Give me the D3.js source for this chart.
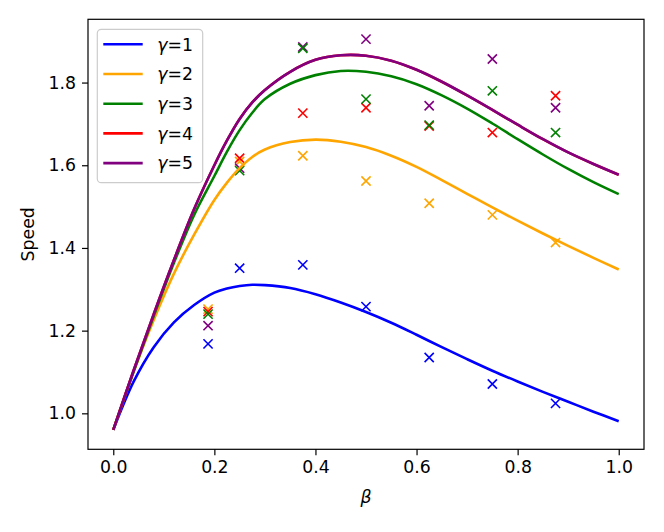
<!DOCTYPE html>
<html>
<head>
<meta charset="utf-8">
<script src="https://cdn.jsdelivr.net/npm/d3@7/dist/d3.min.js"></script>
<style>
  html, body { margin: 0; padding: 0; background: #ffffff; }
  svg { display: block; font-family: "DejaVu Sans", sans-serif; }
</style>
</head>
<body>
<svg id="chart" width="664" height="532"></svg>
<script>
// ---- data ----
const gammas = [1, 2, 3, 4, 5];
const colors = ["#0000ff", "#ffa500", "#008000", "#ff0000", "#800080"];

// curve sample positions (beta)
const betaGrid = [0, 0.04, 0.08, 0.12, 0.16, 0.20, 0.225, 0.25, 0.275, 0.30, 0.35, 0.40, 0.45,
                  0.50, 0.55, 0.60, 0.65, 0.70, 0.75, 0.80, 0.85, 0.90, 0.95, 1.00];
const curveG1 = [0.960, 1.076, 1.160, 1.220, 1.262, 1.292, 1.302, 1.308, 1.311, 1.310, 1.303, 1.288, 1.268,
                 1.245, 1.219, 1.190, 1.160, 1.131, 1.103, 1.077, 1.052, 1.028, 1.004, 0.981];
const curveG2 = [0.960, 1.100, 1.226, 1.338, 1.432, 1.516, 1.558, 1.593, 1.620, 1.638, 1.656, 1.662, 1.657,
                 1.644, 1.623, 1.596, 1.564, 1.531, 1.498, 1.466, 1.435, 1.405, 1.376, 1.348];
const curveG3 = [0.960, 1.100, 1.235, 1.364, 1.480, 1.574, 1.633, 1.685, 1.727, 1.760, 1.797, 1.818, 1.828,
                 1.826, 1.815, 1.796, 1.769, 1.737, 1.701, 1.663, 1.626, 1.591, 1.559, 1.530];
const curveG4 = [0.960, 1.103, 1.240, 1.371, 1.494, 1.600, 1.660, 1.712, 1.752, 1.782, 1.826, 1.855, 1.866,
                 1.865, 1.853, 1.831, 1.802, 1.769, 1.734, 1.698, 1.663, 1.631, 1.603, 1.577];
const curveG5 = [0.960, 1.103, 1.240, 1.371, 1.494, 1.600, 1.660, 1.712, 1.752, 1.782, 1.826, 1.855, 1.866,
                 1.865, 1.853, 1.831, 1.802, 1.769, 1.734, 1.698, 1.663, 1.631, 1.603, 1.577];

// measured points
const betaMeas = [0.1875, 0.25, 0.375, 0.5, 0.625, 0.75, 0.875];
const measG1 = [1.168, 1.351, 1.359, 1.258, 1.135, 1.071, 1.024];
const measG2 = [1.252, 1.609, 1.623, 1.562, 1.508, 1.480, 1.413];
const measG3 = [1.240, 1.587, 1.883, 1.760, 1.697, 1.780, 1.679];
const measG4 = [1.246, 1.617, 1.726, 1.739, 1.695, 1.679, 1.768];
const measG5 = [1.212, 1.593, 1.886, 1.905, 1.744, 1.857, 1.739];

const xTicks = [0.0, 0.2, 0.4, 0.6, 0.8, 1.0];
const yTicks = [1.0, 1.2, 1.4, 1.6, 1.8];

const curves = [curveG1, curveG2, curveG3, curveG4, curveG5];
const meas = [measG1, measG2, measG3, measG4, measG5];
const scatterOrder = [0, 1, 3, 4, 2];

// ---- layout ----
const L = 88, R = 644, T = 19.3, B = 449.3;
const FS = 17.3;
const svg = d3.select("#chart");

const x = d3.scaleLinear().domain([-0.05, 1.05]).range([L, R]);
const y = d3.scaleLinear().domain([0.913, 1.953]).range([B, T]);

// clip
svg.append("defs").append("clipPath").attr("id", "clip")
  .append("rect").attr("x", L).attr("y", T).attr("width", R - L).attr("height", B - T);

const plot = svg.append("g").attr("clip-path", "url(#clip)");

// scatter markers (x)
const ms = 4.6;
scatterOrder.forEach(i => {
  plot.append("g").selectAll("path")
    .data(betaMeas.map((b, j) => [b, meas[i][j]]))
    .join("path")
    .attr("d", d => {
      const cx = x(d[0]), cy = y(d[1]);
      return `M${cx - ms},${cy - ms}L${cx + ms},${cy + ms}M${cx - ms},${cy + ms}L${cx + ms},${cy - ms}`;
    })
    .attr("stroke", colors[i])
    .attr("stroke-width", 1.6)
    .attr("fill", "none");
});

// curves
const line = d3.line().x(d => x(d[0])).y(d => y(d[1])).curve(d3.curveCatmullRom.alpha(0.5));
curves.forEach((c, i) => {
  plot.append("path")
    .datum(betaGrid.map((b, j) => [b, c[j]]))
    .attr("d", line)
    .attr("fill", "none")
    .attr("stroke", colors[i])
    .attr("stroke-width", 2.6)
    .attr("stroke-linejoin", "round")
    .attr("stroke-linecap", "butt");
});

// axes
const xAxis = d3.axisBottom(x).tickValues(xTicks).tickFormat(d3.format(".1f")).tickSize(6).tickPadding(5);
const yAxis = d3.axisLeft(y).tickValues(yTicks).tickFormat(d3.format(".1f")).tickSize(6).tickPadding(6);

const gx = svg.append("g").attr("transform", `translate(0,${B})`).call(xAxis);
const gy = svg.append("g").attr("transform", `translate(${L},0)`).call(yAxis);
[gx, gy].forEach(g => {
  g.select(".domain").remove();
  g.selectAll(".tick line").attr("stroke", "#000").attr("stroke-width", 1.2);
  g.selectAll(".tick text").attr("fill", "#000")
    .style("font-family", "DejaVu Sans").style("font-size", FS + "px");
});

// spines
svg.append("rect").attr("x", L).attr("y", T).attr("width", R - L).attr("height", B - T)
  .attr("fill", "none").attr("stroke", "#000").attr("stroke-width", 1.2);

// axis labels
svg.append("text").attr("x", (L + R) / 2).attr("y", 503)
  .attr("text-anchor", "middle").style("font-size", FS + "px").style("font-style", "italic")
  .text("β");
svg.append("text").attr("transform", `translate(34,${(T + B) / 2}) rotate(-90)`)
  .attr("text-anchor", "middle").style("font-size", FS + "px")
  .text("Speed");

// legend
const lg = svg.append("g");
lg.append("rect").attr("x", 97.3).attr("y", 29.3).attr("width", 105.4).attr("height", 153.4)
  .attr("rx", 4).attr("fill", "#fff").attr("fill-opacity", 0.8)
  .attr("stroke", "#cccccc").attr("stroke-width", 1.2);
gammas.forEach((g, i) => {
  const yy = 44.3 + i * 29.7;
  lg.append("line").attr("x1", 103.3).attr("x2", 142.7).attr("y1", yy).attr("y2", yy)
    .attr("stroke", colors[i]).attr("stroke-width", 2.6);
  const t = lg.append("text").attr("x", 157.3).attr("y", yy).attr("dy", "0.36em")
    .style("font-size", FS + "px");
  t.append("tspan").style("font-style", "italic").text("γ");
  t.append("tspan").text("=" + g);
});
</script>
</body>
</html>
